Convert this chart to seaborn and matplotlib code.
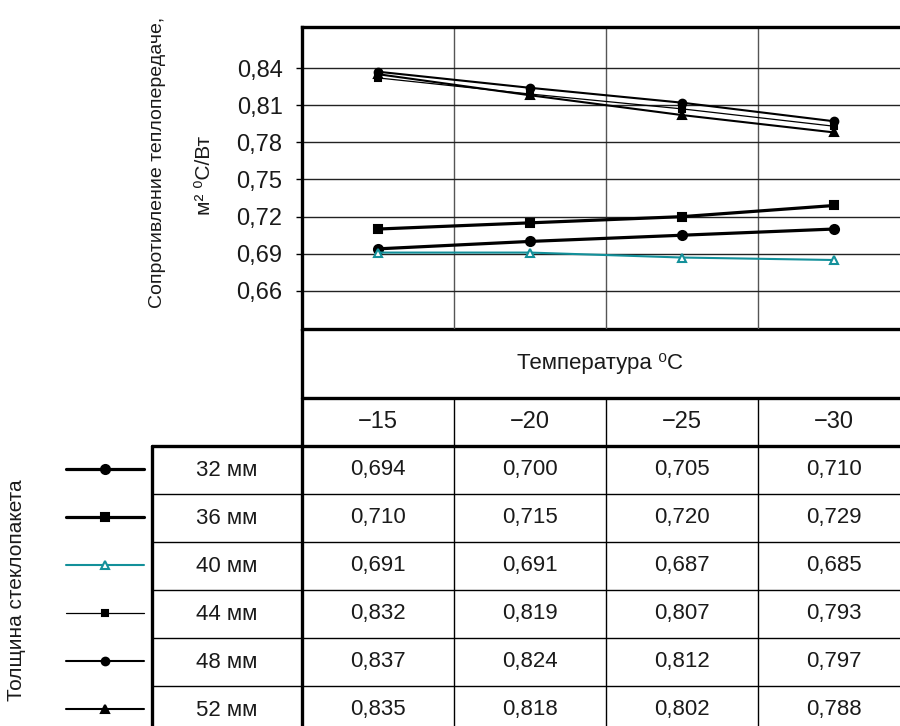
import matplotlib
matplotlib.use("Agg")
import matplotlib.pyplot as plt
import matplotlib.transforms as mtransforms
import seaborn as sns
import pandas as pd
from matplotlib.lines import Line2D

# ---- data ----
temps = ["−15", "−20", "−25", "−30"]
series = ["32 мм", "36 мм", "40 мм", "44 мм", "48 мм", "52 мм"]
v32 = [0.694, 0.700, 0.705, 0.710]
v36 = [0.710, 0.715, 0.720, 0.729]
v40 = [0.691, 0.691, 0.687, 0.685]
v44 = [0.832, 0.819, 0.807, 0.793]
v48 = [0.837, 0.824, 0.812, 0.797]
v52 = [0.835, 0.818, 0.802, 0.788]
yticks = [0.66, 0.69, 0.72, 0.75, 0.78, 0.81, 0.84]
ytick_labels = ["0,66", "0,69", "0,72", "0,75", "0,78", "0,81", "0,84"]
values = [v32, v36, v40, v44, v48, v52]

# ---- styles ----
teal = "#13909a"
styles = {
    "32 мм": dict(color="black", lw=2.3, marker="o", ms=6.5, mfc="black"),
    "36 мм": dict(color="black", lw=2.3, marker="s", ms=6.0, mfc="black"),
    "40 мм": dict(color=teal, lw=1.5, marker="^", ms=5.5, mfc="white"),
    "44 мм": dict(color="black", lw=0.9, marker="s", ms=5.0, mfc="black"),
    "48 мм": dict(color="black", lw=1.5, marker="o", ms=5.5, mfc="black"),
    "52 мм": dict(color="black", lw=1.5, marker="^", ms=5.5, mfc="black"),
}

sns.set_theme(style="white")
plt.rcParams["font.family"] = ["Liberation Sans", "DejaVu Sans"]
txt_color = "#1a1a1a"

W, H = 900, 726
fig = plt.figure(figsize=(9, 7.26), dpi=100)
fig.patch.set_facecolor("white")

# overlay axes in pixel coordinates (for the table)
ov = fig.add_axes([0, 0, 1, 1], zorder=0)
ov.set_xlim(0, W)
ov.set_ylim(H, 0)
ov.axis("off")

# main plot axes
ax = fig.add_axes([302 / W, 1 - 329 / H, 608 / W, 302 / H], zorder=1)
ax.patch.set_alpha(0)

for name, vals in zip(series, values):
    st = styles[name]
    df = pd.DataFrame({"t": temps, "v": vals})
    sns.lineplot(data=df, x="t", y="v", ax=ax, color=st["color"], lw=st["lw"],
                 marker=st["marker"], markersize=st["ms"], markerfacecolor=st["mfc"],
                 markeredgecolor=st["color"], markeredgewidth=1.5, sort=False)

ax.set_xlim(-0.5, 3.5)
ax.set_ylim(0.6293, 0.8731)
ax.set_yticks(yticks)
ax.set_yticklabels(ytick_labels, fontsize=17, color=txt_color)
ax.set_xticks([])
ax.set_xticks([0.5, 1.5, 2.5], minor=True)
ax.tick_params(axis="x", which="both", length=0, labelbottom=False)
ax.tick_params(axis="y", which="major", length=4, width=1, color="black", pad=10, left=True)
ax.grid(which="major", axis="y", color="#222222", lw=1.0)
ax.grid(which="minor", axis="x", color="#555555", lw=1.0)
ax.set_xlabel("")
ax.set_ylabel("")
for s in ["left", "top"]:
    ax.spines[s].set_visible(True)
    ax.spines[s].set_linewidth(2.4)
    ax.spines[s].set_color("black")
ax.spines["right"].set_visible(False)
ax.spines["bottom"].set_visible(False)

# y label (two lines)
ov.text(158, 162, "Сопротивление теплопередаче,", rotation=90, ha="center", va="center",
        fontsize=14, color=txt_color)
ov.text(205, 175, "м² ⁰С/Вт", rotation=90, ha="center", va="center", fontsize=15,
        color=txt_color)

# ---- table ----
thick = 2.4
thin = 1.0
ov.plot([302, W], [329, 329], color="black", lw=thick)
ov.plot([302, W], [398, 398], color="black", lw=thick)
ov.plot([152, W], [446, 446], color="black", lw=thick)
row_edges = [494, 542, 590, 638, 686]
for y in row_edges:
    ov.plot([152, W], [y, y], color="black", lw=thin)
ov.plot([302, 302], [329, H], color="black", lw=thick)
ov.plot([152, 152], [446, H], color="black", lw=thick)

blend = mtransforms.blended_transform_factory(ax.transData, ov.transData)
for xe in [0.5, 1.5, 2.5]:
    ov.plot([xe, xe], [398, H], color="black", lw=thin, transform=blend)

ov.text(600, 364, "Температура ⁰С", ha="center", va="center", fontsize=16, color=txt_color)
for i, t in enumerate(temps):
    ov.text(i, 422, t, ha="center", va="center", fontsize=17, color=txt_color,
            transform=blend)

row_centers = [470, 518, 566, 614, 662, 710]
for name, vals, yc in zip(series, values, row_centers):
    ov.text(227, yc, name, ha="center", va="center", fontsize=16, color=txt_color)
    for i, v in enumerate(vals):
        ov.text(i, yc, f"{v:.3f}".replace(".", ","), ha="center", va="center",
                fontsize=16, color=txt_color, transform=blend)
    st = styles[name]
    ov.add_line(Line2D([66, 144], [yc - 1, yc - 1], color=st["color"], lw=st["lw"]))
    ov.add_line(Line2D([105], [yc - 1], color=st["color"], marker=st["marker"],
                       markersize=st["ms"], markerfacecolor=st["mfc"],
                       markeredgecolor=st["color"], markeredgewidth=1.5, lw=0))

ov.text(17, 590, "Толщина стеклопакета", rotation=90, ha="center", va="center",
        fontsize=15, color=txt_color)

fig.savefig("out.png", dpi=100, facecolor="white")
